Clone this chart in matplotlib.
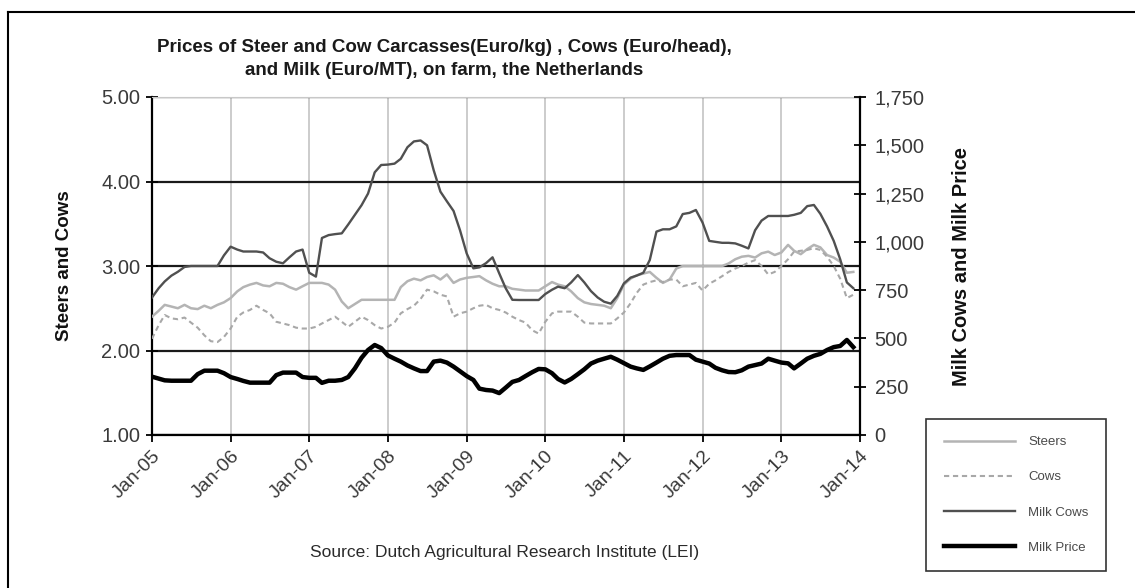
import numpy as np
import pandas as pd
import matplotlib
matplotlib.use('Agg')
import matplotlib.pyplot as plt
import matplotlib.dates as mdates
from matplotlib.lines import Line2D

# monthly series, Jan-05 .. Dec-13
months = pd.date_range('2005-01-01', periods=108, freq='MS')

# Euro/kg carcass (left axis)
steers = [
    2.40, 2.47, 2.54, 2.52, 2.50, 2.54, 2.50, 2.49, 2.53, 2.50, 2.54, 2.57,
    2.62, 2.70, 2.75, 2.78, 2.80, 2.77, 2.76, 2.80, 2.79, 2.75, 2.72, 2.76,
    2.80, 2.80, 2.80, 2.78, 2.72, 2.58, 2.50, 2.55, 2.60, 2.60, 2.60, 2.60,
    2.60, 2.60, 2.75, 2.82, 2.85, 2.83, 2.87, 2.89, 2.84, 2.90, 2.80, 2.84,
    2.86, 2.87, 2.88, 2.83, 2.79, 2.76, 2.76, 2.73, 2.72, 2.71, 2.71, 2.71,
    2.76, 2.81, 2.78, 2.76, 2.70, 2.62, 2.57, 2.55, 2.54, 2.53, 2.50, 2.62,
    2.78, 2.85, 2.89, 2.91, 2.93, 2.86, 2.80, 2.84, 2.97, 3.00, 3.00, 3.00,
    3.00, 3.00, 3.00, 3.00, 3.03, 3.08, 3.11, 3.12, 3.10, 3.15, 3.17, 3.13,
    3.16, 3.25, 3.18, 3.14, 3.20, 3.25, 3.22, 3.13, 3.10, 3.05, 2.92, 2.93,
]
cows = [
    2.14, 2.30, 2.42, 2.38, 2.37, 2.39, 2.33, 2.27, 2.18, 2.11, 2.10, 2.16,
    2.26, 2.40, 2.45, 2.48, 2.53, 2.48, 2.44, 2.34, 2.32, 2.30, 2.27, 2.26,
    2.26, 2.28, 2.32, 2.36, 2.40, 2.34, 2.28, 2.34, 2.40, 2.36, 2.30, 2.26,
    2.28, 2.33, 2.44, 2.49, 2.53, 2.61, 2.72, 2.70, 2.66, 2.64, 2.40, 2.44,
    2.46, 2.50, 2.53, 2.54, 2.50, 2.48, 2.45, 2.40, 2.36, 2.33, 2.24, 2.20,
    2.34, 2.44, 2.46, 2.46, 2.46, 2.40, 2.33, 2.32, 2.32, 2.32, 2.32, 2.38,
    2.45, 2.56, 2.68, 2.78, 2.81, 2.83, 2.81, 2.84, 2.84, 2.76, 2.78, 2.80,
    2.71, 2.79, 2.83, 2.88, 2.93, 2.97, 3.00, 3.04, 3.07, 3.00, 2.90, 2.93,
    3.00, 3.08, 3.17, 3.18, 3.19, 3.21, 3.19, 3.11, 3.00, 2.85, 2.62, 2.66,
]
# Euro/head and Euro/MT (right axis)
milk_cows = [
    712, 760, 795, 825, 845, 870, 875, 875, 875, 875, 875, 930,
    975, 960, 950, 950, 950, 945, 915, 897, 889, 920, 950, 960,
    840, 820, 1020, 1035, 1040, 1044, 1090, 1140, 1190, 1250, 1360, 1398,
    1400, 1405, 1430, 1490, 1520, 1525, 1500, 1370, 1260, 1210, 1160, 1060,
    940, 863, 868, 890, 920, 837, 760, 700, 699, 699, 699, 699,
    730, 752, 768, 760, 790, 828, 790, 745, 712, 690, 680, 720,
    785, 815, 825, 840, 906, 1053, 1065, 1065, 1080, 1144, 1150, 1165,
    1100, 1005, 1000, 995, 995, 992, 980, 966, 1060, 1110, 1134, 1134,
    1134, 1134, 1140, 1150, 1185, 1191, 1145, 1080, 1005, 910, 790, 760,
]
milk_price = [
    302, 292, 283, 281, 281, 281, 281, 315, 333, 333, 333, 320,
    300, 290, 280, 271, 271, 271, 271, 310, 323, 323, 323, 300,
    296, 296, 270, 281, 281, 285, 300, 345, 400, 440, 466, 450,
    412, 395, 380, 360, 345, 331, 331, 380, 385, 375, 354, 330,
    305, 285, 240, 233, 230, 217, 245, 275, 285, 305, 325, 342,
    340, 320, 290, 272, 290, 315, 340, 370, 385, 395, 405, 390,
    372, 354, 345, 337, 355, 375, 395, 410, 414, 414, 414, 390,
    380, 370, 348, 335, 326, 325, 335, 354, 362, 370, 395, 385,
    375, 371, 345, 370, 395, 410, 420, 440, 455, 461, 492, 455,
]

year_ticks = pd.date_range('2005-01-01', '2014-01-01', freq='YS')
tick_labels = [d.strftime('%b-%y') for d in year_ticks]

TXT = '#3a3a3a'
plt.rcParams['font.family'] = ['Liberation Sans', 'DejaVu Sans']

fig = plt.figure(figsize=(11.35, 5.88), dpi=100)
ax = fig.add_axes([152 / 1135, 1 - 435 / 588, 708 / 1135, 338 / 588])
ax2 = ax.twinx()

# left axis: steers and cows
ax.plot(months, steers, color='#b4b4b4', lw=1.8, zorder=3)
ax.plot(months, cows, color='#a8a8a8', lw=1.5, ls=(0, (2.5, 1.8)), zorder=3)
ax.set_ylim(1, 5)
ax.set_yticks([1, 2, 3, 4, 5])
ax.set_yticklabels([f'{v:.2f}' for v in [1, 2, 3, 4, 5]])
ax.set_xlim(year_ticks[0], year_ticks[-1])
ax.set_xticks(year_ticks)
ax.set_xticklabels(tick_labels, rotation=45, ha='right', rotation_mode='anchor')

ax.grid(axis='y', color='#1a1a1a', lw=1.6)
ax.grid(axis='x', color='#c4c4c4', lw=1.2)
ax.set_axisbelow(True)

ax.tick_params(axis='y', direction='inout', length=9, width=1.3, color='black',
               labelsize=14.5, labelcolor=TXT, pad=4)
ax.tick_params(axis='x', direction='out', length=5, width=1.3, color='black',
               labelsize=14, labelcolor=TXT, pad=4)
ax.set_ylabel('Steers and Cows', fontsize=13.5, fontweight='bold',
              color='#111111', labelpad=20)

for s in ['left', 'bottom']:
    ax.spines[s].set_color('black')
    ax.spines[s].set_linewidth(1.6)
ax.spines['top'].set_color('#c8c8c8')
ax.spines['right'].set_visible(False)

# right axis: milk cows and milk price
ax2.plot(months, milk_cows, color='#505050', lw=1.7)
ax2.plot(months, milk_price, color='black', lw=3.2)
ax2.set_ylim(0, 1750)
ax2.set_yticks(np.arange(0, 1751, 250))
ax2.set_yticklabels([f'{v:,}' for v in range(0, 1751, 250)])
ax2.tick_params(axis='y', direction='inout', length=9, width=1.3, color='black',
                labelsize=14.5, labelcolor=TXT, pad=6)
ax2.set_ylabel('Milk Cows and Milk Price', fontsize=14.5, fontweight='bold',
               color='#111111', labelpad=20)
for s in ['left', 'top', 'bottom']:
    ax2.spines[s].set_visible(False)
ax2.spines['right'].set_color('black')
ax2.spines['right'].set_linewidth(1.6)

# title and source
fig.text(444 / 1135, 1 - 59 / 588,
         'Prices of Steer and Cow Carcasses(Euro/kg) , Cows (Euro/head),\n'
         'and Milk (Euro/MT), on farm, the Netherlands',
         ha='center', va='center', fontsize=13.5, fontweight='bold',
         color='#1a1a1a', linespacing=1.5)
fig.text(505 / 1135, 1 - 553 / 588,
         'Source: Dutch Agricultural Research Institute (LEI)',
         ha='center', va='center', fontsize=12.5, color='#2a2a2a')

# legend
handles = [
    Line2D([], [], color='#b4b4b4', lw=1.8),
    Line2D([], [], color='#a8a8a8', lw=1.5, ls=(0, (2.5, 1.8))),
    Line2D([], [], color='#505050', lw=1.7),
    Line2D([], [], color='black', lw=3.2),
]
leg = fig.legend(handles, ['Steers', 'Cows', 'Milk Cows', 'Milk Price'],
                 loc='center', bbox_to_anchor=(1016 / 1135, 1 - 495 / 588),
                 fontsize=9.5, frameon=True, fancybox=False, edgecolor='black',
                 handlelength=5.4, handletextpad=1.0, labelspacing=1.75,
                 borderpad=1.3, borderaxespad=0)
leg.get_frame().set_linewidth(1.2)
for t in leg.get_texts():
    t.set_color('#4a4a4a')

# outer chart border (top and left edges visible)
fig.add_artist(Line2D([8 / 1135, 8 / 1135], [0, 1 - 12 / 588],
                      color='black', lw=1.5, transform=fig.transFigure))
fig.add_artist(Line2D([8 / 1135, 1], [1 - 12 / 588, 1 - 12 / 588],
                      color='black', lw=1.5, transform=fig.transFigure))

fig.savefig('out.png', dpi=100)
